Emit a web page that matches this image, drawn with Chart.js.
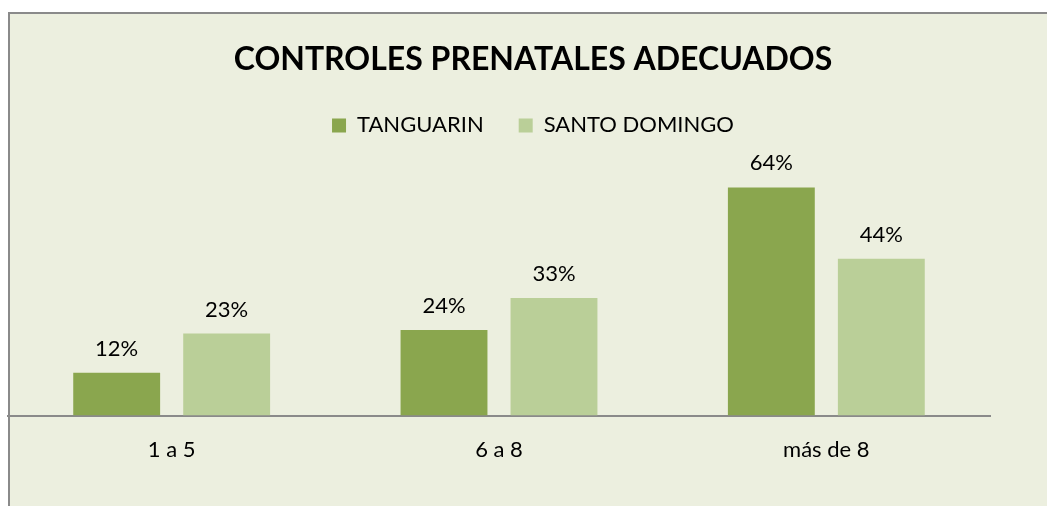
<!DOCTYPE html>
<html>
<head>
<meta charset="utf-8">
<script src="https://cdn.jsdelivr.net/npm/chart.js@4"></script>
<style>
  body { margin: 0; background: #ffffff; }
  canvas { display: block; }
</style>
</head>
<body>
<canvas id="prenatal-chart" width="1047" height="506"></canvas>
<script>
// categories and series
const categories = ['1 a 5', '6 a 8', 'más de 8'];
const tanguarin = [12, 24, 64];
const santoDomingo = [23, 33, 44];

// draws the framed light green background like the spreadsheet chart
const frameBackground = {
    id: 'frameBackground',
    beforeDraw(chart) {
        const ctx = chart.ctx;
        ctx.save();
        ctx.fillStyle = '#ECEFDF';
        ctx.fillRect(8, 12, chart.width, chart.height);
        ctx.strokeStyle = '#8A8A8A';
        ctx.lineWidth = 2;
        ctx.beginPath();
        ctx.moveTo(9, chart.height);
        ctx.lineTo(9, 13);
        ctx.lineTo(chart.width, 13);
        ctx.stroke();
        ctx.restore();
    }
};

// value labels on top of each bar
const barLabels = {
    id: 'barLabels',
    afterDatasetsDraw(chart) {
        const ctx = chart.ctx;
        ctx.save();
        ctx.font = '22px Lato';
        ctx.fillStyle = '#000';
        ctx.textAlign = 'center';
        ctx.textBaseline = 'alphabetic';
        chart.data.datasets.forEach((ds, i) => {
            chart.getDatasetMeta(i).data.forEach((bar, j) => {
                ctx.fillText(ds.data[j] + '%', bar.x, bar.y - 17);
            });
        });
        ctx.restore();
    }
};

const ctx = document.getElementById('prenatal-chart').getContext('2d');
const chart = new Chart(ctx, {
    type: 'bar',
    data: {
        labels: categories,
        datasets: [{
            label: 'TANGUARIN',
            data: tanguarin,
            backgroundColor: '#8AA64E'
        }, {
            label: 'SANTO DOMINGO',
            data: santoDomingo,
            backgroundColor: '#BACF98'
        }]
    },
    options: {
        responsive: false,
        animation: false,
        // the frame runs past the right edge of the picture, so title and legend sit right of the plot centre
        layout: { padding: { left: 8, right: -11, top: 40, bottom: 30 } },
        categoryPercentage: 0.672,
        barPercentage: 0.79,
        plugins: {
            title: {
                display: true,
                text: 'CONTROLES PRENATALES ADECUADOS',
                color: '#000',
                font: { family: 'Lato', size: 32, weight: 'bold' },
                padding: { top: 0, bottom: 1 }
            },
            legend: {
                labels: {
                    color: '#000',
                    boxWidth: 14,
                    boxHeight: 14,
                    padding: 35,
                    font: { family: 'Lato', size: 22 }
                }
            },
            tooltip: { enabled: false }
        },
        scales: {
            x: {
                grid: { display: false },
                border: { display: true, color: '#8A8A8A', width: 2 },
                ticks: { color: '#000', padding: 13, font: { family: 'Lato', size: 22 } }
            },
            y: {
                display: false,
                min: 0,
                max: 75.5
            },
            // empty spacer on the right so the plot ends where the axis line ends
            spacer: {
                type: 'linear',
                position: 'right',
                grid: { display: false },
                border: { display: false },
                ticks: { display: false },
                afterFit: (scale) => { scale.width = 68; }
            }
        }
    },
    plugins: [frameBackground, barLabels]
});
</script>
</body>
</html>
